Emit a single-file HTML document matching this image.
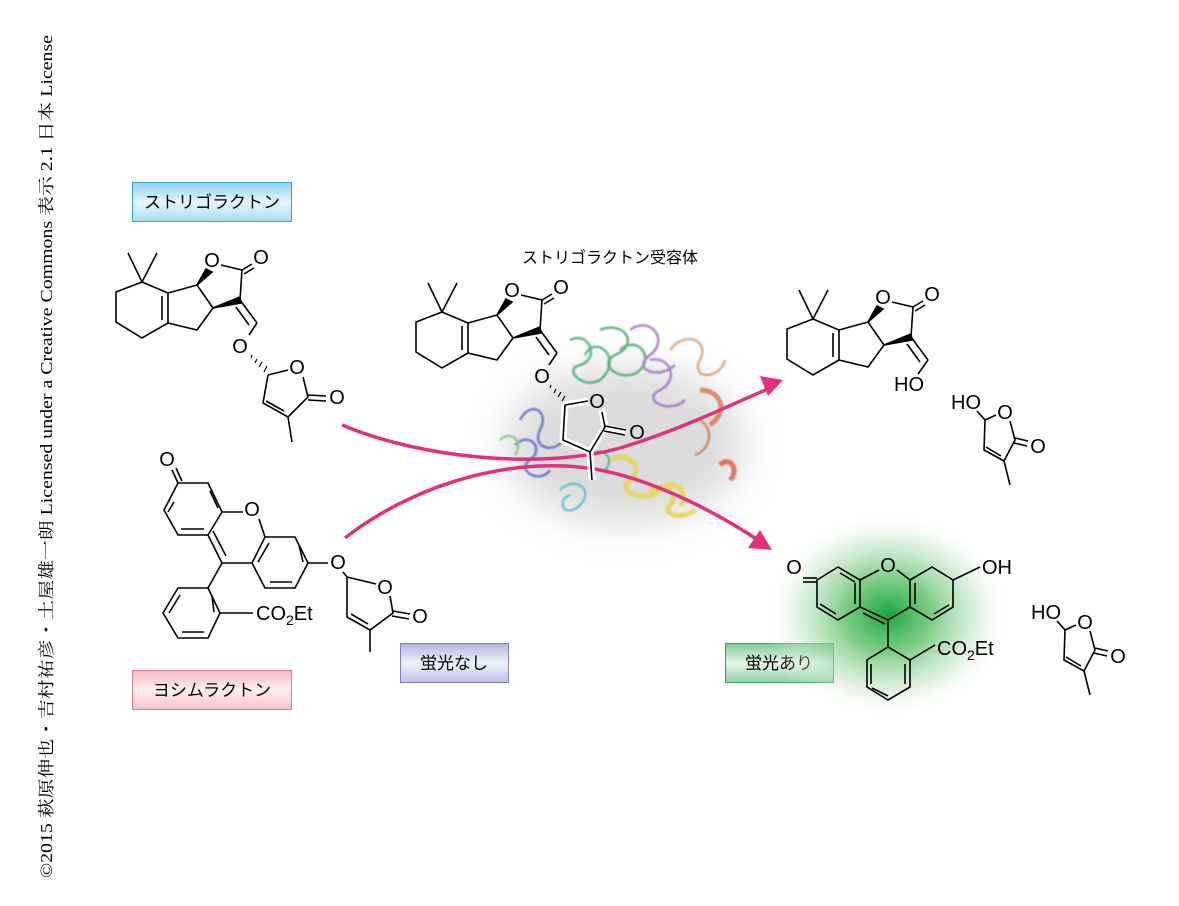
<!DOCTYPE html>
<html><head><meta charset="utf-8"><style>
html,body{margin:0;padding:0;background:#fff;}
svg{display:block}
text{font-family:"Liberation Sans","Noto Sans CJK JP",sans-serif;}
text.a{text-anchor:middle;dominant-baseline:central;font-size:20px;}
</style></head><body>
<svg width="1179" height="906" viewBox="0 0 1179 906" xmlns="http://www.w3.org/2000/svg">
<defs>
<linearGradient id="gb" x1="0" y1="0" x2="0" y2="1"><stop offset="0" stop-color="#8fd0f3"/><stop offset=".5" stop-color="#e6f5fd"/><stop offset="1" stop-color="#a9dcf5"/></linearGradient>
<linearGradient id="gp" x1="0" y1="0" x2="0" y2="1"><stop offset="0" stop-color="#f6b9c4"/><stop offset=".5" stop-color="#fdeef1"/><stop offset="1" stop-color="#f7c3cc"/></linearGradient>
<linearGradient id="gv" x1="0" y1="0" x2="0" y2="1"><stop offset="0" stop-color="#b3b6dc"/><stop offset=".5" stop-color="#eef0f9"/><stop offset="1" stop-color="#bcc0e2"/></linearGradient>
<linearGradient id="gg" x1="0" y1="0" x2="0" y2="1"><stop offset="0" stop-color="#7cc993"/><stop offset=".5" stop-color="#e6f5ea"/><stop offset="1" stop-color="#8fd1a2"/></linearGradient>
<radialGradient id="glow" cx="0.5" cy="0.5" r="0.5"><stop offset="0" stop-color="#18a83a"/><stop offset=".35" stop-color="#5cbf6a" stop-opacity=".8"/><stop offset=".7" stop-color="#b6e0b9" stop-opacity=".5"/><stop offset="1" stop-color="#fff" stop-opacity="0"/></radialGradient>
<filter id="bl" x="-30%" y="-30%" width="160%" height="160%"><feGaussianBlur stdDeviation="20"/></filter>
<filter id="bl2"><feGaussianBlur stdDeviation="0.8"/></filter>
<g id="core" fill="none" stroke="#000" stroke-width="1.6">
<polyline points="128,253 142,282 157,253"/>
<polygon points="142,282 116,292 116,322 142,338 168,323 168,293"/>
<line x1="162" y1="296" x2="162" y2="320"/>
<polyline points="168,293 197,285 213,308 197,330 168,323"/>
<polygon points="197,285 206,269 212,272" fill="#000"/>
<polyline points="221,265 242,270 240,300"/>
<line x1="242" y1="270" x2="252" y2="264"/><line x1="244" y1="274" x2="254" y2="268"/>
<polygon points="213,308 240,297 241,303" fill="#000"/>
<line x1="240" y1="300" x2="257" y2="323"/><line x1="236" y1="307" x2="249" y2="325"/>
<text class="a" x="212" y="261" fill="#000" stroke="none">O</text>
<text class="a" x="261" y="258" fill="#000" stroke="none">O</text>
</g>
</defs>

<text transform="translate(52,878) rotate(-90)" font-size="16.5" textLength="843" lengthAdjust="spacingAndGlyphs" style="font-family:'Liberation Serif','Noto Serif CJK SC',serif">©2015 萩原伸也・吉村祐彦・土屋雄一朗 Licensed under a Creative Commons 表示 2.1 日本 License</text>

<rect x="132.5" y="182.5" width="159" height="39" fill="url(#gb)" stroke="#2fa6e0"/>
<text x="212" y="208" font-size="17" text-anchor="middle">ストリゴラクトン</text>
<rect x="132.5" y="670.5" width="159" height="39" fill="url(#gp)" stroke="#e77b8f"/>
<text x="212" y="696" font-size="17" text-anchor="middle">ヨシムラクトン</text>
<rect x="400.5" y="643.5" width="108" height="39" fill="url(#gv)" stroke="#7c80c0"/>
<text x="454" y="669" font-size="17" text-anchor="middle">蛍光なし</text>
<rect x="725.5" y="643.5" width="108" height="39" fill="url(#gg)" stroke="#3aa35a"/>
<text x="779" y="669" font-size="17" text-anchor="middle">蛍光あり</text>
<text x="610" y="263" font-size="16" text-anchor="middle">ストリゴラクトン受容体</text>

<g>
<ellipse cx="625" cy="445" rx="120" ry="80" fill="#999" opacity=".35" filter="url(#bl)"/>
<g fill="none" stroke-width="2.5" filter="url(#bl2)" opacity=".7">
<path d="M520,420 c10,-20 30,-10 20,10 c-10,20 20,25 25,5" stroke="#4050c0"/>
<path d="M515,445 c15,-15 30,5 15,15 c-15,10 10,25 20,10" stroke="#3a4fd0"/>
<path d="M570,340 c20,-10 30,20 10,25 c-20,5 10,30 25,10 c15,-20 -10,-40 -20,-20" stroke="#1fa060"/>
<path d="M600,330 c25,-10 40,15 15,25 c-20,10 10,30 25,15 c15,-15 -5,-35 -20,-20" stroke="#1f9a4a"/>
<path d="M630,330 c20,-15 40,10 20,25 c-20,15 10,25 25,10" stroke="#9050c0"/>
<path d="M650,360 c20,-5 30,20 10,30 c-20,10 10,25 25,10" stroke="#8a5ac8"/>
<path d="M670,350 c15,-20 40,-10 30,10 c-10,20 20,20 25,0" stroke="#d08a50"/>
<path d="M700,390 c20,0 30,20 10,35" stroke="#e0602a" stroke-width="5"/>
<path d="M700,420 c15,10 10,30 -5,35" stroke="#c86a30"/>
<path d="M610,460 c20,-10 35,10 20,20 c-15,10 15,25 30,10 c15,-15 30,5 20,15" stroke="#e8d42a" stroke-width="5"/>
<path d="M650,490 c15,-10 30,5 20,15 c-10,10 15,15 25,5" stroke="#e6d030" stroke-width="5"/>
<path d="M560,490 c15,-15 35,0 20,15 c-15,15 -25,-5 -10,-10" stroke="#30b8c8"/>
<path d="M590,455 c15,-10 25,5 15,15" stroke="#20a890"/>
<path d="M500,440 c10,-10 25,0 15,15" stroke="#70c060"/>
<path d="M720,465 c10,-10 20,5 10,15" stroke="#e04020" stroke-width="5"/>
</g>
</g>

<ellipse cx="888" cy="615" rx="125" ry="105" fill="url(#glow)"/>

<g fill="none" stroke="#e0307e" stroke-width="3.5">
<path d="M342,425 C420,458 540,470 620,448 C680,430 730,405 770,388"/>
<path d="M345,538 C420,480 520,455 600,470 C660,482 720,515 758,540"/>
</g>
<polygon points="783,380 760,376 768,396" fill="#e0307e"/>
<polygon points="772,550 748,548 760,530" fill="#e0307e"/>

<!-- strigolactone left -->
<use href="#core"/>
<g fill="none" stroke="#000" stroke-width="1.6">
<line x1="257" y1="323" x2="249" y2="335"/>
<g stroke-width="1.2"><line x1="251" y1="358" x2="252" y2="355"/><line x1="255" y1="363" x2="257" y2="359"/><line x1="259" y1="367" x2="262" y2="362"/><line x1="264" y1="372" x2="267" y2="366"/></g>
<polyline points="268,375 288,370"/>
<polyline points="303,377 308,397 288,417 263,403 268,375"/>
<line x1="284" y1="411" x2="266" y2="401"/>
<line x1="308" y1="395" x2="326" y2="396"/><line x1="308" y1="400" x2="326" y2="401"/>
<line x1="288" y1="417" x2="292" y2="442"/>
</g>
<text class="a" x="240" y="347">O</text><text class="a" x="297" y="368">O</text><text class="a" x="337" y="398">O</text>

<!-- receptor center molecule -->
<g transform="translate(300,30)"><use href="#core"/></g>
<g fill="none" stroke="#000" stroke-width="1.6">
<line x1="557" y1="353" x2="549" y2="365"/>
<g stroke-width="1.2"><line x1="550" y1="388" x2="551" y2="385"/><line x1="554" y1="393" x2="556" y2="389"/><line x1="558" y1="397" x2="561" y2="392"/><line x1="562" y1="401" x2="565" y2="396"/></g>
<g stroke="#fff" stroke-width="7"><polyline points="565,405 588,401"/><polyline points="602,410 605,427 590,452 563,440 565,405"/><line x1="605" y1="428" x2="626" y2="432"/><line x1="590" y1="452" x2="592" y2="480"/></g>
<polyline points="565,405 588,401"/>
<polyline points="602,412 605,427 590,452 563,440 565,405"/>
<line x1="605" y1="426" x2="626" y2="430"/><line x1="604" y1="431" x2="625" y2="435"/>
<line x1="590" y1="452" x2="592" y2="480"/>
</g>
<text class="a" x="542" y="377">O</text><text class="a" x="597" y="402">O</text><text class="a" x="637" y="433">O</text>

<!-- right top product -->
<g transform="translate(671,37)"><use href="#core"/></g>
<line x1="928" y1="360" x2="918" y2="374" stroke="#000" stroke-width="1.6"/>
<text class="a" x="909" y="385">HO</text>

<g id="bh">
<g fill="none" stroke="#000" stroke-width="1.6">
<line x1="977" y1="411" x2="985" y2="420"/>
<polyline points="985,420 996,415"/>
<polyline points="1010,421 1015,440 1004,461 984,450 985,420"/>
<line x1="1001" y1="456" x2="986" y2="447"/>
<line x1="1015" y1="438" x2="1028" y2="441"/><line x1="1014" y1="443" x2="1027" y2="446"/>
<line x1="1004" y1="461" x2="1010" y2="485"/>
</g>
<text class="a" x="966" y="403">HO</text><text class="a" x="1005" y="413">O</text><text class="a" x="1038" y="447">O</text>
</g>
<g transform="translate(80,210)"><use href="#bh"/></g>

<!-- yoshimulactone -->
<g fill="none" stroke="#000" stroke-width="1.6">
<line x1="172" y1="470" x2="178" y2="483"/><line x1="176" y1="468" x2="182" y2="481"/>
<polygon points="178,483 208,483 222,512 208,535 178,535 164,510"/>
<line x1="210" y1="491" x2="218" y2="508"/><line x1="181" y1="529" x2="204" y2="529"/><line x1="168" y1="512" x2="174" y2="502"/>
<line x1="208" y1="535" x2="222" y2="563"/><line x1="213" y1="531" x2="226" y2="556"/>
<line x1="222" y1="512" x2="243" y2="512"/><line x1="259" y1="519" x2="265" y2="537"/>
<polygon points="265,537 295,537 308,563 295,588 265,588 252,563"/>
<line x1="269" y1="543" x2="258" y2="562"/><line x1="299" y1="545" x2="303" y2="562"/><line x1="270" y1="582" x2="292" y2="582"/>
<line x1="222" y1="563" x2="252" y2="563"/>
<line x1="308" y1="563" x2="328" y2="563"/>
<line x1="343" y1="572" x2="347" y2="577"/>
<polyline points="347,577 376,584"/>
<polyline points="390,596 393,613 370,630 347,617 347,577"/>
<line x1="368" y1="624" x2="351" y2="614"/>
<line x1="393" y1="611" x2="410" y2="614"/><line x1="392" y1="616" x2="409" y2="619"/>
<line x1="370" y1="630" x2="370" y2="652"/>
<line x1="222" y1="563" x2="208" y2="588"/>
<polygon points="208,588 220,613 208,638 178,638 163,613 178,588"/>
<line x1="212" y1="596" x2="214" y2="612"/><line x1="182" y1="632" x2="204" y2="632"/><line x1="169" y1="613" x2="180" y2="595"/>
<line x1="220" y1="613" x2="253" y2="613"/>
</g>
<text class="a" x="167" y="460">O</text><text class="a" x="252" y="510">O</text><text class="a" x="338" y="563">O</text><text class="a" x="385" y="588">O</text><text class="a" x="420" y="617">O</text>
<text x="256" y="620" font-size="20">CO<tspan font-size="14" dy="5">2</tspan><tspan dy="-5">Et</tspan></text>

<!-- fluorescein right -->
<g fill="none" stroke="#000" stroke-width="1.6">
<line x1="803" y1="578" x2="817" y2="578"/><line x1="803" y1="582" x2="817" y2="582"/>
<polygon points="817,580 838,567 860,580 860,607 838,620 817,607"/>
<line x1="840" y1="573" x2="855" y2="582"/><line x1="855" y1="583" x2="855" y2="604"/><line x1="820" y1="604" x2="836" y2="614"/>
<line x1="860" y1="580" x2="879" y2="570"/><line x1="897" y1="570" x2="910" y2="580"/>
<polygon points="910,580 932,567 953,580 953,607 932,620 910,607"/>
<line x1="915" y1="583" x2="915" y2="604"/><line x1="934" y1="614" x2="949" y2="605"/>
<line x1="860" y1="607" x2="888" y2="620"/><line x1="910" y1="607" x2="888" y2="620"/><line x1="863" y1="613" x2="885" y2="624"/>
<line x1="953" y1="580" x2="980" y2="567"/>
<line x1="888" y1="620" x2="888" y2="647"/>
<polygon points="888,647 910,660 910,687 888,700 867,687 867,660"/>
<line x1="905" y1="664" x2="905" y2="684"/><line x1="871" y1="664" x2="871" y2="684"/><line x1="872" y1="688" x2="888" y2="696"/>
<line x1="910" y1="660" x2="935" y2="645"/>
</g>
<text class="a" x="794" y="568">O</text><text class="a" x="888" y="566">O</text>
<text x="982" y="574" font-size="20">OH</text>
<text x="937" y="655" font-size="20">CO<tspan font-size="14" dy="5">2</tspan><tspan dy="-5">Et</tspan></text>
</svg>
</body></html>
